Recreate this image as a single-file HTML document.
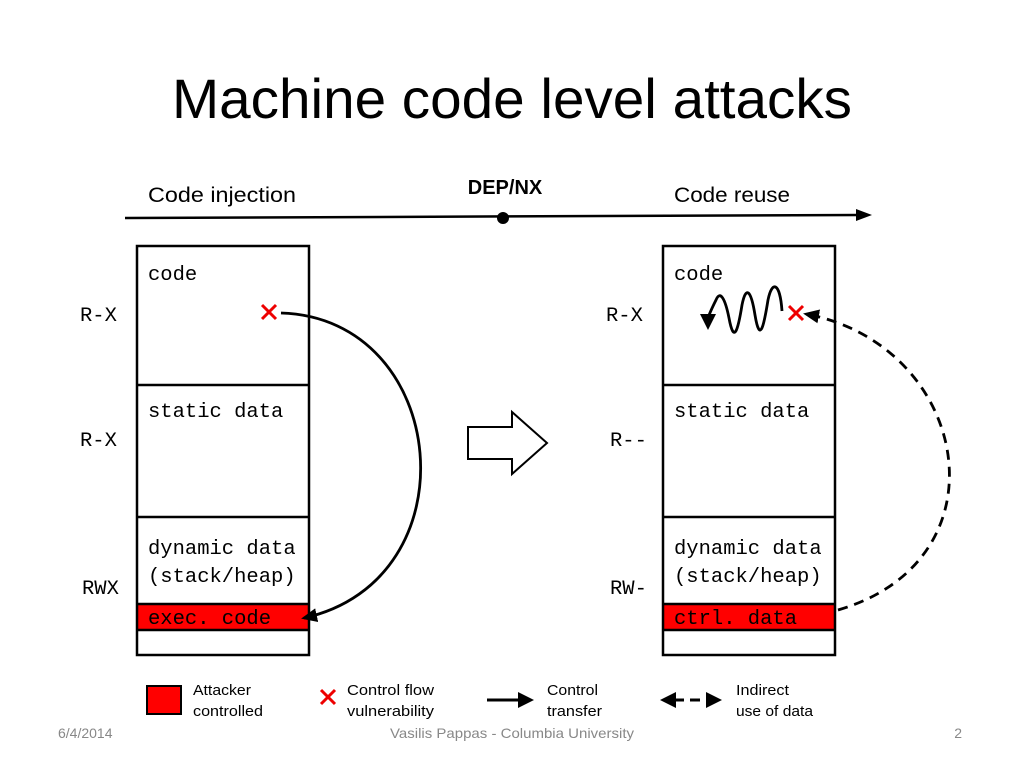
<!DOCTYPE html>
<html><head><style>body{margin:0;background:#fff}svg{display:block}</style></head><body>
<svg width="1024" height="768" viewBox="0 0 1024 768" xmlns="http://www.w3.org/2000/svg">
<defs>
<marker id="ah2" markerWidth="16" markerHeight="16" refX="13" refY="8" orient="auto" markerUnits="userSpaceOnUse"><path d="M0,1 L16,8 L0,15z" fill="#000"/></marker>
</defs>
<g font-family="Liberation Sans, sans-serif">
<text x="512" y="118" font-size="56" text-anchor="middle" fill="#000" textLength="680" lengthAdjust="spacingAndGlyphs">Machine code level attacks</text>
<text x="222" y="202" font-size="21" text-anchor="middle" textLength="148" lengthAdjust="spacingAndGlyphs">Code injection</text>
<text x="505" y="194" font-size="20" font-weight="bold" text-anchor="middle">DEP/NX</text>
<text x="732" y="202" font-size="21" text-anchor="middle" textLength="116" lengthAdjust="spacingAndGlyphs">Code reuse</text>
</g>
<line x1="125" y1="218" x2="860" y2="215" stroke="#000" stroke-width="2.5"/>
<path d="M856,209 L872,215 L856,221z" fill="#000"/>
<circle cx="503" cy="218" r="6" fill="#000"/>

<g font-family="Liberation Mono, monospace" font-size="20.5">
<rect x="137" y="604" width="172" height="26" fill="#f00"/>
<rect x="137" y="246" width="172" height="409" fill="none" stroke="#000" stroke-width="2.5"/>
<line x1="137" y1="385" x2="309" y2="385" stroke="#000" stroke-width="2.5"/>
<line x1="137" y1="517" x2="309" y2="517" stroke="#000" stroke-width="2.5"/>
<line x1="137" y1="604" x2="309" y2="604" stroke="#000" stroke-width="2.5"/>
<line x1="137" y1="630" x2="309" y2="630" stroke="#000" stroke-width="2.5"/>
<text x="148" y="280">code</text>
<text x="148" y="417">static data</text>
<text x="148" y="554">dynamic data</text>
<text x="148" y="582">(stack/heap)</text>
<text x="148" y="624">exec. code</text>
<text x="80" y="321">R-X</text>
<text x="80" y="446">R-X</text>
<text x="82" y="594">RWX</text>
<rect x="663" y="604" width="172" height="26" fill="#f00"/>
<rect x="663" y="246" width="172" height="409" fill="none" stroke="#000" stroke-width="2.5"/>
<line x1="663" y1="385" x2="835" y2="385" stroke="#000" stroke-width="2.5"/>
<line x1="663" y1="517" x2="835" y2="517" stroke="#000" stroke-width="2.5"/>
<line x1="663" y1="604" x2="835" y2="604" stroke="#000" stroke-width="2.5"/>
<line x1="663" y1="630" x2="835" y2="630" stroke="#000" stroke-width="2.5"/>
<text x="674" y="280">code</text>
<text x="674" y="417">static data</text>
<text x="674" y="554">dynamic data</text>
<text x="674" y="582">(stack/heap)</text>
<text x="674" y="624">ctrl. data</text>
<text x="606" y="321">R-X</text>
<text x="610" y="446">R--</text>
<text x="610" y="594">RW-</text>
</g>
<g stroke="#e00" stroke-width="3">
<line x1="262" y1="305" x2="276" y2="319"/><line x1="276" y1="305" x2="262" y2="319"/>
<line x1="789" y1="306" x2="803" y2="320"/><line x1="803" y1="306" x2="789" y2="320"/>
</g>
<path d="M281,313 C450,318 475,580 304,618" fill="none" stroke="#000" stroke-width="2.8" marker-end="url(#ah2)"/>
<path d="M838,610 C1010,560 970,345 806,314" fill="none" stroke="#000" stroke-width="2.8" stroke-dasharray="10,7" marker-end="url(#ah2)"/>
<path d="M782,311 C780,282 772,280 768,300 C764,325 760,345 755,315 C751,290 746,285 742,305 C738,330 734,345 729,318 C725,298 720,290 716,300 C712,308 710,312 708,318" fill="none" stroke="#000" stroke-width="2.8"/>
<path d="M700,314 L716,314 L708,330z" fill="#000"/>
<path d="M468,427 L512,427 L512,412 L547,443 L512,474 L512,459 L468,459z" fill="#fff" stroke="#000" stroke-width="2"/>
<rect x="147" y="686" width="34" height="28" fill="#f00" stroke="#000" stroke-width="2"/>
<g font-family="Liberation Sans, sans-serif" font-size="15">
<text x="193" y="695" textLength="58" lengthAdjust="spacingAndGlyphs">Attacker</text><text x="193" y="716" textLength="70" lengthAdjust="spacingAndGlyphs">controlled</text>
<text x="347" y="695" textLength="87" lengthAdjust="spacingAndGlyphs">Control flow</text><text x="347" y="716" textLength="87" lengthAdjust="spacingAndGlyphs">vulnerability</text>
<text x="547" y="695" textLength="51" lengthAdjust="spacingAndGlyphs">Control</text><text x="547" y="716" textLength="55" lengthAdjust="spacingAndGlyphs">transfer</text>
<text x="736" y="695" textLength="53" lengthAdjust="spacingAndGlyphs">Indirect</text><text x="736" y="716" textLength="77" lengthAdjust="spacingAndGlyphs">use of data</text>
</g>
<g stroke="#e00" stroke-width="3"><line x1="321" y1="690" x2="335" y2="704"/><line x1="335" y1="690" x2="321" y2="704"/></g>
<line x1="487" y1="700" x2="520" y2="700" stroke="#000" stroke-width="3"/>
<path d="M518,692 L534,700 L518,708z" fill="#000"/>
<path d="M660,700 L676,692 L676,708z" fill="#000"/>
<line x1="676" y1="700" x2="684" y2="700" stroke="#000" stroke-width="3"/>
<line x1="690" y1="700" x2="700" y2="700" stroke="#000" stroke-width="3"/>
<path d="M706,692 L722,700 L706,708z" fill="#000"/>
<g font-family="Liberation Sans, sans-serif" font-size="14" fill="#888">
<text x="58" y="738">6/4/2014</text>
<text x="512" y="738" text-anchor="middle" textLength="244" lengthAdjust="spacingAndGlyphs">Vasilis Pappas - Columbia University</text>
<text x="962" y="738" text-anchor="end">2</text>
</g>
</svg>
</body></html>
